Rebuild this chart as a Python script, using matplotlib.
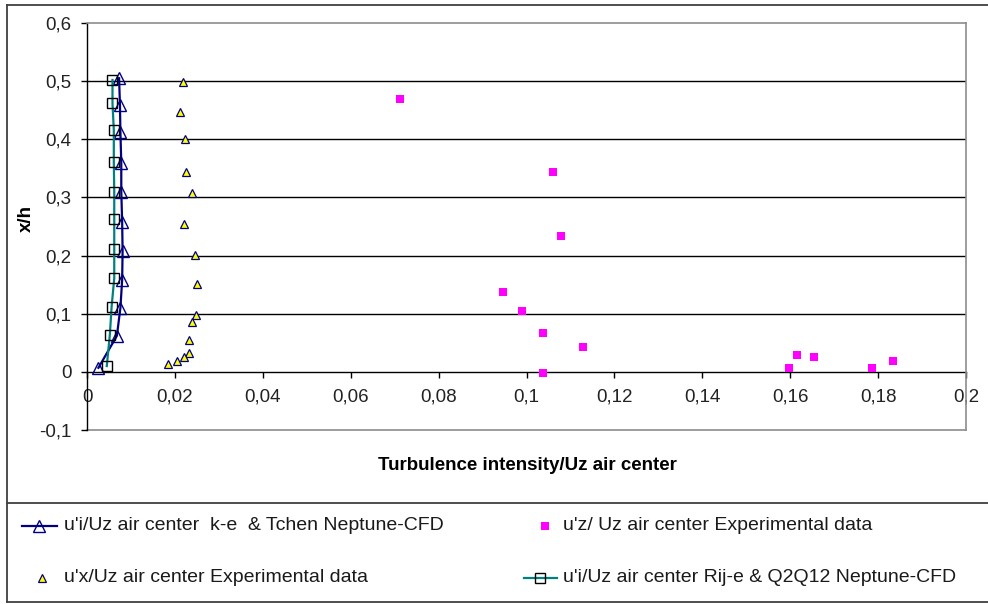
import matplotlib
matplotlib.use("Agg")
import matplotlib.pyplot as plt
from matplotlib.lines import Line2D
from matplotlib.ticker import FuncFormatter, MultipleLocator

plt.rcParams["font.family"] = ["Liberation Sans", "DejaVu Sans"]

# --- data -----------------------------------------------------------------
# u'i/Uz air center, k-e & Tchen (Neptune-CFD)
ke_x = [0.0073, 0.0075, 0.0076, 0.0078, 0.0078, 0.0080, 0.0081, 0.0080, 0.0076, 0.0068, 0.0026]
ke_y = [0.505, 0.459, 0.413, 0.359, 0.310, 0.258, 0.208, 0.158, 0.110, 0.062, 0.007]

# u'i/Uz air center, Rij-e & Q2Q12 (Neptune-CFD)
rij_x = [0.0058, 0.0058, 0.0061, 0.0061, 0.0062, 0.0062, 0.0062, 0.0062, 0.0056, 0.0052, 0.0045]
rij_y = [0.502, 0.462, 0.416, 0.361, 0.310, 0.263, 0.211, 0.161, 0.112, 0.064, 0.010]

# u'x/Uz air center, experimental
ux_x = [0.0219, 0.0212, 0.0223, 0.0225, 0.0238, 0.0221, 0.0246, 0.0251, 0.0248,
        0.0238, 0.0231, 0.0233, 0.0221, 0.0204, 0.0185]
ux_y = [0.499, 0.447, 0.400, 0.343, 0.307, 0.254, 0.201, 0.151, 0.098,
        0.086, 0.055, 0.033, 0.026, 0.018, 0.014]

# u'z/Uz air center, experimental
uz_x = [0.0713, 0.1060, 0.1078, 0.0947, 0.0990, 0.1038, 0.1129, 0.1038,
        0.1598, 0.1616, 0.1655, 0.1787, 0.1835]
uz_y = [0.470, 0.344, 0.234, 0.138, 0.104, 0.066, 0.0435, -0.002,
        0.006, 0.029, 0.026, 0.006, 0.019]

labels = [
    "u'i/Uz air center  k-e  & Tchen Neptune-CFD",
    "u'z/ Uz air center Experimental data",
    "u'x/Uz air center Experimental data",
    "u'i/Uz air center Rij-e & Q2Q12 Neptune-CFD",
]
x_label = "Turbulence intensity/Uz air center"
y_label = "x/h"

# --- figure ---------------------------------------------------------------
W, H = 988, 604
fig = plt.figure(figsize=(W / 100, H / 100), dpi=100)


def fx(px):
    return px / W


def fy(py):
    return 1 - py / H


ax = fig.add_axes([fx(87), fy(430), fx(966) - fx(87), fy(23) - fy(430)])
ax.set_xlim(0, 0.2)
ax.set_ylim(-0.1, 0.6)

NAVY = "#000080"
TEAL = "#008080"
GRAY = "#8c8c8c"

# horizontal gridlines
for g in [0.1, 0.2, 0.3, 0.4, 0.5]:
    ax.axhline(g, color="black", lw=1.0, zorder=1)
# plot-area frame below the axis line
ax.axhline(-0.1, color=GRAY, lw=1.2, zorder=1, clip_on=False)

ke_line, = ax.plot(ke_x, ke_y, color=NAVY, lw=1.6, marker="^", ms=8.5,
                   mfc="none", mec=NAVY, mew=1.0, zorder=3)
rij_line, = ax.plot(rij_x, rij_y, color=TEAL, lw=1.6, marker="s", ms=7.2,
                    mfc="none", mec="black", mew=1.0, zorder=4)
ux_pts, = ax.plot(ux_x, ux_y, ls="none", marker="^", ms=6.0,
                  mfc="#ffff00", mec=NAVY, mew=0.9, zorder=5)
uz_pts, = ax.plot(uz_x, uz_y, ls="none", marker="s", ms=5.6,
                  mfc="#ff00ff", mec="#ff00ff", mew=0, zorder=5)

# axes styling
for s in ["top", "right"]:
    ax.spines[s].set_color(GRAY)
    ax.spines[s].set_linewidth(1.2)
ax.spines["left"].set_color("black")
ax.spines["left"].set_linewidth(1.0)
ax.spines["bottom"].set_position(("data", 0))
ax.spines["bottom"].set_color("black")
ax.spines["bottom"].set_linewidth(1.0)
ax.spines["bottom"].set_zorder(2)

ax.xaxis.set_major_locator(MultipleLocator(0.02))
ax.yaxis.set_major_locator(MultipleLocator(0.1))


def comma_fmt(v, pos):
    s = f"{v:.2f}".rstrip("0").rstrip(".")
    if s in ("-0", ""):
        s = "0"
    return s.replace(".", ",")


ax.xaxis.set_major_formatter(FuncFormatter(comma_fmt))
ax.yaxis.set_major_formatter(FuncFormatter(comma_fmt))
ax.tick_params(axis="x", direction="out", length=4, width=1.0, pad=8,
               labelsize=13.5, colors="black", labelcolor="#222222")
ax.tick_params(axis="y", direction="out", length=4.3, width=1.0, pad=7,
               labelsize=13.5, colors="black", labelcolor="#222222")

fig.text(fx(527), fy(465), x_label, ha="center", va="center",
         fontsize=13.5, fontweight="bold", color="black")
fig.text(fx(26), fy(218), y_label, ha="center", va="center", rotation=90,
         fontsize=13.5, fontweight="bold", color="black")

# --- chart frame and legend box --------------------------------------------
frame_c = "#404040"
fig.add_artist(Line2D([fx(7), fx(7)], [fy(5), fy(602)], color=frame_c, lw=1.3,
                      transform=fig.transFigure))
fig.add_artist(Line2D([fx(7), fx(990)], [fy(5), fy(5)], color=frame_c, lw=1.3,
                      transform=fig.transFigure))
fig.add_artist(Line2D([fx(7), fx(990)], [fy(503), fy(503)], color=frame_c, lw=1.3,
                      transform=fig.transFigure))
fig.add_artist(Line2D([fx(7), fx(990)], [fy(602), fy(602)], color=frame_c, lw=1.3,
                      transform=fig.transFigure))


def legend_entry(src, x0, x1, xm, y, xt, text):
    if src.get_linestyle() not in ("None", "none", ""):
        fig.add_artist(Line2D([fx(x0), fx(x1)], [fy(y), fy(y)],
                              color=src.get_color(), lw=src.get_linewidth(),
                              transform=fig.transFigure))
    fig.add_artist(Line2D([fx(xm)], [fy(y)], ls="none",
                          marker=src.get_marker(), ms=src.get_markersize(),
                          mfc=src.get_markerfacecolor(), mec=src.get_markeredgecolor(),
                          mew=src.get_markeredgewidth(),
                          transform=fig.transFigure))
    fig.text(fx(xt), fy(y), text, ha="left", va="center", fontsize=14,
             color="#1a1a1a")


legend_entry(ke_line, 22, 57, 39, 526, 64, labels[0])
legend_entry(uz_pts, 0, 0, 545, 526, 563, labels[1])
legend_entry(ux_pts, 0, 0, 42, 578, 64, labels[2])
legend_entry(rij_line, 524, 557, 540, 578, 563, labels[3])

fig.savefig("out.png", dpi=100)
